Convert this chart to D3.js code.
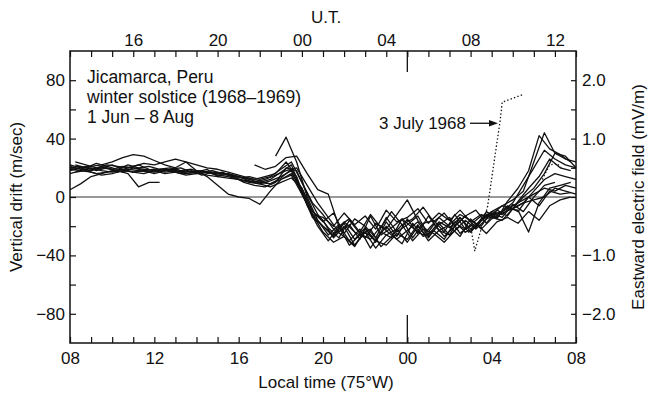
<!DOCTYPE html>
<html>
<head>
<meta charset="utf-8">
<script src="https://cdn.jsdelivr.net/npm/d3@7"></script>
<style>
  body { margin: 0; background: #fff; }
  svg text { font-family: "Liberation Sans", Arial, sans-serif; font-size: 17px; fill: #111; }
</style>
</head>
<body>
<svg id="drawing_region"></svg>
<script>
// local time grid (hours after 00 LT of first day), two offsets
var hoursA = d3.range(8, 32.01, 0.5);      // 49 samples
var hoursB = d3.range(8.25, 31.76, 0.5);   // 48 samples

// vertical drift (m/s), one array per night
var day1 = [20,21, 19,20, 19,21, 20,19, 18,19, 17,18, 16,17, 15,14, 12,11, 10,12, 17,22, 4,-14, -20,-27, -18,-29, -21,-31, -17,-27, -15,-25, -13,-23, -19,-12, -16,-20, -10,-12, -6,-2, 2,6, 4,8, 6];
var day2 = [5,9, 14,16, 18,19, 17,18, 19,17, 18,16, 17,15, 14,13, 12,10, 9,11, 14,18, 2,-12, -14,-20, -11,-19, -13,-22, -9,-17, -14,-8, -18,-11, -16,-9, -17,-12, -14,-16, -8,-4, -2,0, 6,4, 2];
var day3 = [18,20, 21,22, 24,27, 29,28, 25,22, 20,24, 18,14, 8,2, 0,-1, -5,4, 12,16, 6,-10, -16,-28, -20,-33, -24,-35, -26,-22, -31,-20, -28,-18, -26,-14, -22,-16, -12,-10, -4,8, 20,32, 26,22, 20];
var day7 = [19,18, 20,18, 17,19, 21,23, 22,24, 26,24, 22,20, 19,17, 15,13, 11,9, 13,19, 4,-12, -20,-26, -17,-24, -28,-18, -22,-12, -2,-16, -24,-14, -20,-27, -15,-22, -15,-11, -8,-4, 4,12, 16,14, 12];
var day8 = [21,19, 18,20, 22,19, 17,18, 16,18, 19,17, 18,17, 16,15, 14,12, 10,9, 12,15, 2,-12, -24,-31, -27,-34, -22,-30, -33,-25, -29,-19, -30,-23, -26,-20, -24,-15, -10,-6, -2,4, 24,44, 30,26, 24];
var day10 = [16,18, 17,15, 16,18, 17,16, 18,16, 17,15, 16,17, 15,16, 14,11, 9,7, 10,13, 6,-10, -17,-11, -25,-15, -20,-28, -14,-24, -19,-13, -26,-17, -21,-14, -24,-16, -11,-14, -5,-10, 0,8, 10];
var day12 = [22,20, 18,21, 19,17, 20,18, 17,19, 18,16, 17,19, 14,16, 13,14, 12,14, 19,24, 10,-4, -12,-22, -27,-33, -24,-30, -20,-29, -23,-17, -27,-19, -14,-25, -19,-13, -12,-6, -8,0, 6,16, 30,28, 20];

var day4 = [null,null,null,null,null,null,null,null,null,null,null,null,null,null,null,null,null,null,null,
  28,41, 24,0, -16, -26,-19, -30,-22, -35,-24, -28,-15, -21,-26, -18,-27, -20,-13, -21,-10, -15,-3, 6,18, 42,33, 29,24];
var day5 = [22,20, 23,21, 19,22, 20,21, 19,20, 18,19, 17,18, 16,15, 13,12, 14,16, 24,14, -6,-20, -30,-20, -33,-26, -22,-34, -27,-19, -30,-22, -25,-31, -23,-16, -22,-15, -12,-8, -9,-24, -4,6, 8,10];
var day6 = [17,18, 16,17, 18,16, 7,10, 10, null,null,null,null,null,null,null,null,
  22,19, 21,27, 28,16, 5, 2,-20, -15,-24, -12,-21, -10,-19, -15,-7, -17,-11, -20,-13, -9,-18, -9,-13, -3,6, 14,26, 20,18];
var day9 = [19,21, 18,20, 17,19, 18,17, 19,18, 16,18, 15,17, 16,14, 10,8, 7,10, 20,18, 2,-12, -21,-28, -16,-25, -29,-20, -26,-32, -18,-27, -23,-29, -17,-24, -21,-12, -14,-6, -10,0, -6,4, 2,3];
var day11 = [24,22, 20,22, 21,20, 22,19, 17,19, 20,17, 18,16, 17,13, 11,10, 12,15, 18,20, 8,-4, -14,-24, -19,-29, -13,-26, -21,-15, -28,-18, -16,-24, -12,-22, -18,-25, -17,-14, -18,-10, -16,-6, -2,0];

var daysA = [day1, day2, day3, day7, day8, day10, day12];
var daysB = [day4, day5, day6, day9, day11];

// 3 July 1968 (dotted)
var julyHours = [26.0, 26.5, 27.05, 27.2, 27.8, 28.4, 28.5, 29.45];
var julyValues = [-18, -24, -24, -37, -7, 52, 65, 70];
// short dotted fragment near 06 LT
var dotHours = [30.4, 30.75, 31.1, 31.3];
var dotValues = [12, 22, 23, 20];

var leftTicks = [-80, -60, -40, -20, 0, 20, 40, 60, 80];
var leftLabels = [-80, -40, 0, 40, 80];
var rightTicks = [-2, -1.5, -1, -0.5, 0, 0.5, 1, 1.5, 2];
var rightLabels = [-2, -1, 1, 2];
var hourTicks = d3.range(8, 32.01, 1);
var hourLabels = [8, 12, 16, 20, 24, 28, 32];
var utTicks = d3.range(13, 37.01, 1);
var utLabels = [16, 20, 24, 28, 32, 36];
var noteLines = ['Jicamarca, Peru', 'winter solstice (1968\u20131969)', '1 Jun \u2013 8 Aug'];

var margin = { top: 51, right: 73, bottom: 51, left: 70 };
var width = 649 - margin.left - margin.right;
var height = 394 - margin.top - margin.bottom;

var svg = d3.select('#drawing_region')
    .attr('width', 649)
    .attr('height', 394)
    .append('g')
    .attr('transform', 'translate(' + margin.left + ',' + margin.top + ')');

var xScale = d3.scaleLinear().domain([8, 32]).range([0, width]);
var utScale = d3.scaleLinear().domain([13, 37]).range([0, width]);
var yScale = d3.scaleLinear().domain([-100, 100]).range([height, 0]);
var eScale = d3.scaleLinear().domain([-2.5, 2.5]).range([height, 0]);

var hh = d => { var h = Math.round(d) % 24; return (h < 10 ? '0' : '') + h; };

// zero line
svg.append('line')
    .attr('x1', 0).attr('x2', width)
    .attr('y1', yScale(0)).attr('y2', yScale(0))
    .attr('stroke', '#333').attr('stroke-width', 1.2);

// curves
var line = d3.line()
    .defined(d => d[1] != null)
    .x(d => xScale(d[0]))
    .y(d => yScale(d[1]));

daysA.forEach(function(vals) {
    svg.append('path')
        .datum(hoursA.map((h, i) => [h, vals[i]]))
        .attr('d', line)
        .attr('fill', 'none').attr('stroke', '#111').attr('stroke-width', 1.3)
        .attr('stroke-linejoin', 'round');
});
daysB.forEach(function(vals) {
    svg.append('path')
        .datum(hoursB.map((h, i) => [h, vals[i]]))
        .attr('d', line)
        .attr('fill', 'none').attr('stroke', '#111').attr('stroke-width', 1.3)
        .attr('stroke-linejoin', 'round');
});

svg.append('path')
    .datum(julyHours.map((h, i) => [h, julyValues[i]]))
    .attr('d', line)
    .attr('fill', 'none').attr('stroke', '#111').attr('stroke-width', 1.3)
    .attr('stroke-dasharray', '1.4,2.2');
svg.append('path')
    .datum(dotHours.map((h, i) => [h, dotValues[i]]))
    .attr('d', line)
    .attr('fill', 'none').attr('stroke', '#111').attr('stroke-width', 1.3)
    .attr('stroke-dasharray', '1.4,2.2');

// axes (ticks point inward)
function styleAxis(g) {
    g.select('.domain').remove();
    g.selectAll('.tick line').attr('stroke', '#111').attr('stroke-width', 1.2);
    g.selectAll('text').attr('font-size', null).attr('font-family', null);
}

svg.append('g')
    .call(d3.axisLeft(yScale).tickValues(leftTicks).tickSize(-6).tickPadding(5)
        .tickFormat(d => leftLabels.indexOf(d) >= 0 ? d3.format('d')(d) : ''))
    .call(styleAxis);

svg.append('g')
    .attr('transform', 'translate(' + width + ',0)')
    .call(d3.axisRight(eScale).tickValues(rightTicks).tickSize(-5).tickPadding(6)
        .tickFormat(d => rightLabels.indexOf(d) >= 0 ? d3.format('.1f')(d) : ''))
    .call(styleAxis);

svg.append('g')
    .attr('transform', 'translate(0,' + height + ')')
    .call(d3.axisBottom(xScale).tickValues(hourTicks).tickSize(-6).tickPadding(9)
        .tickFormat(d => hourLabels.indexOf(d) >= 0 ? hh(d) : ''))
    .call(styleAxis);

svg.append('g')
    .call(d3.axisTop(utScale).tickValues(utTicks).tickSize(-6).tickPadding(5)
        .tickFormat(d => utLabels.indexOf(d) >= 0 ? hh(d) : ''))
    .call(styleAxis);

// long ticks at local midnight
svg.append('line')
    .attr('x1', xScale(24)).attr('x2', xScale(24))
    .attr('y1', height).attr('y2', height - 28)
    .attr('stroke', '#111').attr('stroke-width', 1.3);
svg.append('line')
    .attr('x1', xScale(24)).attr('x2', xScale(24))
    .attr('y1', 0).attr('y2', 21)
    .attr('stroke', '#111').attr('stroke-width', 1.3);

// frame
svg.append('rect')
    .attr('width', width).attr('height', height)
    .attr('fill', 'none').attr('stroke', '#111').attr('stroke-width', 1.5);

// station note
svg.append('g').selectAll('text')
    .data(noteLines)
    .enter()
    .append('text')
    .attr('x', 17)
    .attr('y', (d, i) => 32 + i * 20)
    .style('font-size', '17.5px')
    .text(d => d);

// 3 July arrow
var tipX = xScale(28.3), tipY = yScale(50.5);
svg.append('line')
    .attr('x1', tipX - 28).attr('x2', tipX - 7)
    .attr('y1', tipY).attr('y2', tipY)
    .attr('stroke', '#111').attr('stroke-width', 1.3);
svg.append('path')
    .attr('d', 'M' + tipX + ',' + tipY + 'l-9,-3.2v6.4z')
    .attr('fill', '#111');
svg.append('text')
    .attr('x', tipX - 32).attr('y', tipY + 6)
    .attr('text-anchor', 'end')
    .text('3 July 1968');

// axis titles
svg.append('text')
    .attr('x', width / 2 + 3)
    .attr('y', height + 45)
    .attr('text-anchor', 'middle')
    .text('Local time (75\u00b0W)');

svg.append('text')
    .attr('x', width / 2 + 3)
    .attr('y', -28)
    .attr('text-anchor', 'middle')
    .text('U.T.');

svg.append('text')
    .attr('transform', 'rotate(-90)')
    .attr('x', -yScale(0))
    .attr('y', -48)
    .attr('text-anchor', 'middle')
    .text('Vertical drift (m/sec)');

svg.append('text')
    .attr('transform', 'rotate(-90)')
    .attr('x', -yScale(0))
    .attr('y', width + 68)
    .attr('text-anchor', 'middle')
    .text('Eastward electric field (mV/m)');
</script>
</body>
</html>
